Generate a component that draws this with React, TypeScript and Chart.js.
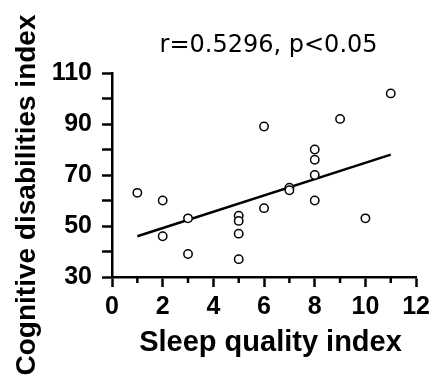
import { useEffect, useRef } from "react";
import { Chart, registerables } from "chart.js";

Chart.register(...registerables);

const sleepQuality = [1, 2, 2, 3, 3, 5, 5, 5, 5, 6, 6, 7, 7, 8, 8, 8, 8, 9, 10, 11];
const cognitive = [63, 60, 46, 53, 39, 54, 52, 47, 37, 89, 57, 65, 64, 80, 76, 70, 60, 92, 53, 102];
const fitX = [1, 11];
const fitY = [46, 78];
const xTicks = [0, 2, 4, 6, 8, 10, 12];
const yTicks = [30, 50, 70, 90, 110];
const titleText = "r=0.5296, p<0.05";
const xTitle = "Sleep quality index";
const yTitle = "Cognitive disabilities index";

const FONT = "'Liberation Sans', Arial, Helvetica, sans-serif";
const TITLE_FONT = "'DejaVu Sans', 'Liberation Sans', Arial, sans-serif";

export default function App() {
  const ref = useRef<HTMLCanvasElement>(null);

  useEffect(() => {
    document.body.style.margin = "0";
    const canvas = ref.current!;

    const axisTitlesPlugin = {
      id: "axisTitlesPlugin",
      afterLayout(chart: any) {
        if (chart.titleBlock) {
          chart.titleBlock.left += 9;
        }
      },
      afterDraw(chart: any) {
        const ctx = chart.ctx;
        ctx.save();
        ctx.fillStyle = "#000";
        ctx.textAlign = "center";
        ctx.textBaseline = "middle";
        // x-axis title
        ctx.font = `bold 29px ${FONT}`;
        ctx.fillText(xTitle, 270.5, 342.5);
        // y-axis title
        ctx.translate(27, 195);
        ctx.rotate(-Math.PI / 2);
        ctx.font = `bold 28px ${FONT}`;
        ctx.fillText(yTitle, 0, 0);
        ctx.restore();
      },
    };

    const minorTicksPlugin = {
      id: "minorTicksPlugin",
      afterDraw(chart: any) {
        const ctx = chart.ctx;
        const x = chart.scales.x;
        ctx.save();
        ctx.strokeStyle = "#000";
        ctx.lineWidth = 2.5;
        for (let v = x.min; v <= x.max; v++) {
          if (xTicks.includes(v)) continue;
          const px = x.getPixelForValue(v);
          ctx.beginPath();
          ctx.moveTo(px, x.top);
          ctx.lineTo(px, x.top + 6);
          ctx.stroke();
        }
        ctx.restore();
      },
    };

    const chart = new Chart(canvas, {
      type: "scatter",
      data: {
        datasets: [
          {
            type: "line",
            data: fitX.map((x, i) => ({ x, y: fitY[i] })),
            borderColor: "#000",
            borderWidth: 2.5,
            pointRadius: 0,
            fill: false,
            order: 1,
          } as any,
          {
            type: "scatter",
            data: sleepQuality.map((x, i) => ({ x, y: cognitive[i] })),
            pointRadius: 4.2,
            pointBorderWidth: 1.5,
            borderColor: "#000",
            backgroundColor: "#fff",
            order: 0,
          } as any,
        ],
      },
      options: {
        responsive: false,
        animation: false,
        devicePixelRatio: 1,
        layout: { padding: { left: 0, right: 17, top: 0, bottom: 0 } },
        plugins: {
          legend: { display: false },
          tooltip: { enabled: false },
          title: {
            display: true,
            text: titleText,
            fullSize: false,
            color: "#000",
            font: { family: TITLE_FONT, size: 24, weight: "normal" },
            padding: { top: 31.6, bottom: 12.6 },
          },
        },
        scales: {
          x: {
            type: "linear",
            min: 0,
            max: 12,
            afterFit: (s: any) => {
              s.height = 105;
            },
            border: { display: true, color: "#000", width: 2.5 },
            grid: {
              drawOnChartArea: false,
              drawTicks: true,
              tickLength: 10,
              tickWidth: 2.5,
              tickColor: (c: any) =>
                c.tick && xTicks.includes(c.tick.value) ? "#000" : "rgba(0,0,0,0)",
            },
            ticks: {
              stepSize: 1,
              autoSkip: false,
              maxRotation: 0,
              color: "#000",
              padding: 5,
              font: { family: FONT, size: 25, weight: "bold" },
              callback: (v: any) => (xTicks.includes(Number(v)) ? String(v) : ""),
            },
            title: { display: false, text: xTitle },
          },
          y: {
            type: "linear",
            min: 30,
            max: 110,
            afterFit: (s: any) => {
              s.width = 112;
            },
            border: { display: true, color: "#000", width: 2.5 },
            grid: {
              drawOnChartArea: false,
              drawTicks: true,
              tickLength: 10,
              tickWidth: 2.5,
              tickColor: "#000",
            },
            ticks: {
              stepSize: 10,
              autoSkip: false,
              color: "#000",
              padding: 10,
              font: { family: FONT, size: 25, weight: "bold" },
              callback: (v: any) => (yTicks.includes(Number(v)) ? String(v) : ""),
            },
            title: { display: false, text: yTitle },
          },
        },
      },
      plugins: [axisTitlesPlugin, minorTicksPlugin],
    } as any);

    return () => chart.destroy();
  }, []);

  return (
    <div style={{ width: 435, height: 382 }}>
      <canvas ref={ref} width={435} height={382} style={{ display: "block" }} />
    </div>
  );
}
